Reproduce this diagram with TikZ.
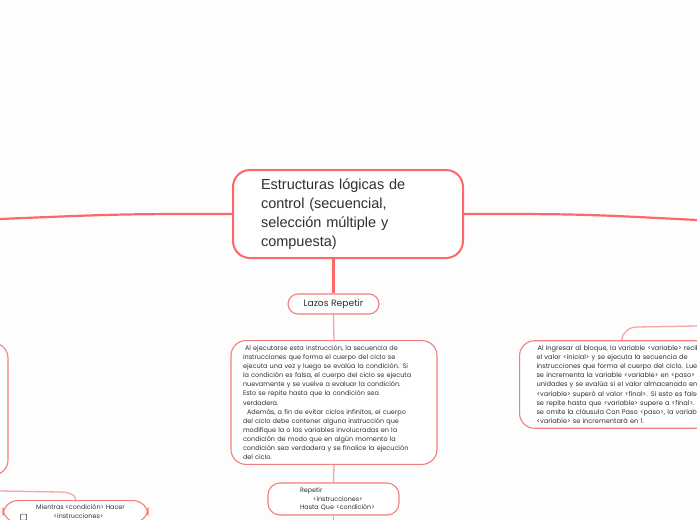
\documentclass[tikz,border=0pt]{standalone}
\usepackage{fontspec}
\setmainfont{Liberation Sans}
\newfontfamily\mapfont{Poppins}
\usetikzlibrary{calc}

\definecolor{pagebg}{HTML}{FDFDFD}
\definecolor{mapred}{HTML}{FF6868}
\definecolor{boxred}{HTML}{F47D7D}
\definecolor{linkpink}{HTML}{F8A5A5}
\definecolor{inkgrey}{HTML}{303030}

\begin{document}
\begin{tikzpicture}[x=1pt,y=-1pt,
  topic/.style={draw=mapred, line width=2pt, rounded corners=17pt, fill=white,
    minimum width=230pt, minimum height=88pt, inner xsep=28pt, text width=174pt,
    align=left, text=inkgrey, font=\fontsize{14.5}{19}\selectfont},
  pill/.style={draw=boxred, line width=1.1pt, rounded corners=10pt, fill=white,
    minimum width=91pt, minimum height=20pt, text=inkgrey,
    font=\mapfont\fontsize{9.2}{11}\selectfont},
  note/.style={draw=boxred, line width=1.1pt, rounded corners=15pt, fill=white,
    align=left, text=inkgrey, inner ysep=5pt,
    font=\mapfont\fontsize{6.6}{9.05}\selectfont},
  thickline/.style={draw=mapred, line width=2.2pt},
  thinline/.style={draw=linkpink, line width=1.3pt}]

% ------------------------
% PAGE
% ------------------------
\useasboundingbox (0,0) rectangle (697,520);
\fill[pagebg] (0,0) rectangle (697,520);
\clip (0,0) rectangle (697,520);

% ------------------------
% Loose ends (off the page)
% ------------------------
\coordinate (leftEnd) at (0,219);
\coordinate (rightEnd) at (697,220);
\coordinate (rboxEnd) at (697,326);
\coordinate (mboxEnd) at (0,491);
\coordinate (downEnd) at (333.5,525);

% ------------------------
% Central topic
% ------------------------
\node[topic] (central) at (348,214)
  {Estructuras lógicas de\\control (secuencial,\\selección múltiple y\\compuesta)};

\draw[thickline] (central.west) .. controls (120,214) .. (leftEnd);
\draw[thickline] (central.east) .. controls (580,214) .. (rightEnd);

% ------------------------
% Lazos Repetir branch
% ------------------------
\node[pill] (lazos) at (333.5,304) {Lazos Repetir};
\draw[thickline] (central.south -| lazos.north) -- (lazos.north);

\node[note, text width=182pt, inner xsep=12pt, font=\mapfont\fontsize{6.5}{9.05}\selectfont]
  (ejecuta) at (334,402.5)
  {\hspace*{2pt}Al ejecutarse esta instrucción, la secuencia de\\
   instrucciones que forma el cuerpo del ciclo se\\
   ejecuta una vez y luego se evalúa la condición. Si\\
   la condición es falsa, el cuerpo del ciclo se ejecuta\\
   nuevamente y se vuelve a evaluar la condición.\\
   Esto se repite hasta que la condición sea\\
   verdadera.\\
   \hspace*{4pt}Además, a fin de evitar ciclos infinitos, el cuerpo\\
   del ciclo debe contener alguna instrucción que\\
   modifique la o las variables involucradas en la\\
   condición de modo que en algún momento la\\
   condición sea verdadera y se finalice la ejecución\\
   del ciclo.};
\draw[thinline] (lazos.south) -- (ejecuta.north);

\node[note, rounded corners=12pt, minimum width=131pt, minimum height=32pt,
  inner ysep=3pt, text width=67pt, font=\mapfont\fontsize{6.4}{8.8}\selectfont]
  (repetir) at (333.5,499)
  {Repetir\\\hspace*{13pt}<instrucciones>\\\mbox{Hasta Que <condición>}};
\draw[thinline] (ejecuta.south) -- (repetir.north);
\draw[thinline] (repetir.south) -- (downEnd);

% ------------------------
% Right branch (Para)
% ------------------------
\node[note, text width=200pt, inner xsep=17pt, minimum height=87pt, anchor=west]
  (rbox) at (519,384.5)
  {\hspace*{1pt}Al ingresar al bloque, la variable <variable> recibe\\
   el valor <inicial> y se ejecuta la secuencia de\\
   instrucciones que forma el cuerpo del ciclo. Luego\\
   se incrementa la variable <variable> en <paso>\\
   unidades y se evalúa si el valor almacenado en\\
   <variable> superó al valor <final>. Si esto es falso\\
   se repite hasta que <variable> supere a <final>. Si\\
   se omite la cláusula Con Paso <paso>, la variable\\
   <variable> se incrementará en 1.};
\draw[thinline] ([xshift=103pt]rbox.north west) to[out=90,in=180] (637,327) -- (rboxEnd);

% ------------------------
% Left branch (Mientras)
% ------------------------
\node[note, minimum width=198pt, minimum height=132pt] (lbox) at (-91,409) {};

\node[note, anchor=north, minimum width=145pt, align=center, inner ysep=4pt,
  font=\mapfont\fontsize{6.4}{9}\selectfont] (mbox) at (75.5,500)
  {\hspace*{10pt}Mientras <condición> Hacer\\\hspace*{6pt}<instrucciones>};
\node[draw=inkgrey, line width=0.5pt, rounded corners=0.8pt, minimum size=6pt,
  inner sep=0pt] (mcheck) at (23.5,517) {};
\draw[thinline] (mboxEnd) -- (60,492) to[out=0,in=90] (mbox.north);

\end{tikzpicture}
\end{document}
